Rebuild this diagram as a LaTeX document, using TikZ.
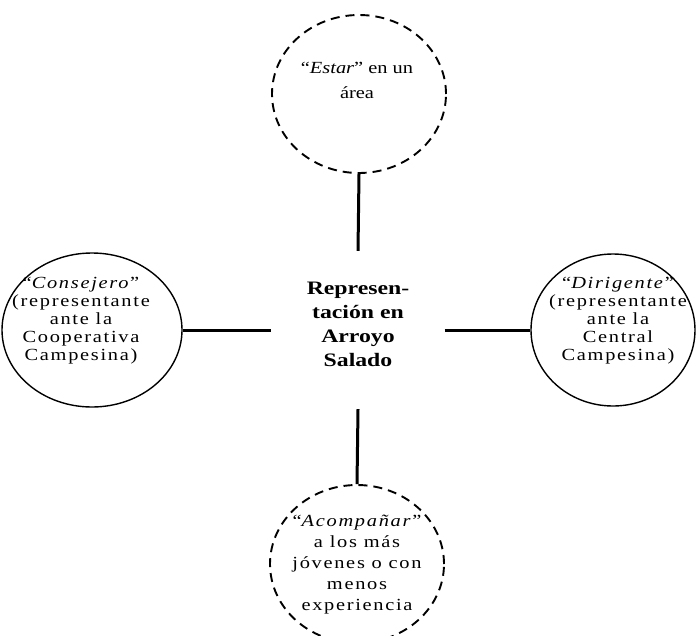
\documentclass[tikz,border=0pt]{standalone}
\usepackage{fontspec}
\setmainfont{Liberation Serif}
\newfontfamily\circfont{Liberation Serif}[FakeStretch=1.2,LetterSpace=10]
\newfontfamily\circfonttop{Liberation Serif}[FakeStretch=1.2]
\newfontfamily\midfont{Liberation Serif}[FakeStretch=1.25]
\usetikzlibrary{shapes.geometric}

\begin{document}
\begin{tikzpicture}[x=1pt,y=-1pt,
    rol/.style={ellipse,draw,line width=1.4pt,inner sep=0pt},
    rolpunt/.style={rol,line width=1.9pt,dash pattern=on 9pt off 6pt},
    texto/.style={align=center,inner sep=0pt,font=\circfont\fontsize{17}{#1}\selectfont},
    brazo/.style={line width=3pt}]
  \useasboundingbox (0,0) rectangle (698,635);
  \node [rolpunt,minimum width=174,minimum height=158] (estar) at (359,94) {};
  \node [rol,minimum width=180,minimum height=154] (consejero) at (92,330) {};
  \node [rol,minimum width=164,minimum height=152] (dirigente) at (613,330) {};
  \node [rolpunt,minimum width=174,minimum height=158] (acomp) at (357,564) {};
  \node [minimum width=173,minimum height=158,align=center,text depth=12pt,
    font=\midfont\bfseries\fontsize{19}{24}\selectfont] (rep) at (358,330)
    {Represen-\\tación en\\Arroyo\\Salado};
  \node [texto=25,font=\circfonttop\fontsize{17}{25}\selectfont] (estarT) at (357,80)
    {“\textit{Estar}” en un\\área};
  \node [texto=18] (consejeroT) at (81,321)
    {“\textit{Consejero}”\\(representante\\ante la\\Cooperativa\\Campesina)};
  \node [texto=18] (dirigenteT) at (618,321)
    {“\textit{Dirigente}”\\(representante\\ante la\\Central\\Campesina)};
  \node [texto=21] (acompT) at (357,565)
    {“\textit{Acompañar}”\\a los más\\jóvenes o con\\menos\\experiencia};
  \draw [brazo] (estar.south) -- (rep.north);
  \draw [brazo] (rep.south) -- (acomp.north);
  \draw [brazo] (consejero.east) -- (rep.west);
  \draw [brazo] (rep.east) -- (dirigente.west);
\end{tikzpicture}
\end{document}
